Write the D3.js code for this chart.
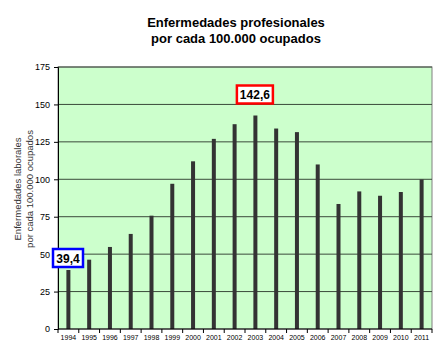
<!DOCTYPE html>
<html><head><meta charset="utf-8">
<script src="https://cdn.jsdelivr.net/npm/d3@7"></script>
<style>body{margin:0;background:#fff}svg{display:block}</style>
</head><body>
<script>
const years = ["1994","1995","1996","1997","1998","1999","2000","2001","2002","2003","2004","2005","2006","2007","2008","2009","2010","2011"];
const values = [39.4,46.3,54.8,63.5,75.7,97,112,127,136.8,142.6,133.9,131.5,109.9,83.5,91.9,89,91.5,99.9];
const yTicks = [0,25,50,75,100,125,150,175];
const titleLines = ["Enfermedades profesionales","por cada 100.000 ocupados"];
const yTitleLines = ["Enfermedades laborales","por cada 100.000 ocupados"];
const annotations = [{year:"1994", text:"39,4", color:"#0000ff"},{year:"2003", text:"142,6", color:"#ff0000"}];

const W=438,H=358, m={l:58,r:6,t:67,b:29};
const svg=d3.select("body").append("svg").attr("width",W).attr("height",H);
const x=d3.scaleBand().domain(years).range([m.l,W-m.r]);
const y=d3.scaleLinear().domain([0,175]).range([H-m.b,m.t]);

svg.append("rect").attr("x",m.l).attr("y",m.t).attr("width",W-m.r-m.l).attr("height",H-m.b-m.t)
  .attr("fill","#ccffcc").attr("stroke","#808080").attr("stroke-width",1);
svg.append("g").selectAll("line").data(yTicks.filter(d=>d>0)).join("line")
  .attr("x1",m.l).attr("x2",W-m.r).attr("y1",d=>y(d)).attr("y2",d=>y(d))
  .attr("stroke","#3a4a3a").attr("stroke-width",1);

svg.append("g").selectAll("rect").data(years).join("rect")
  .attr("x",(d)=>x(d)+x.bandwidth()/2-2).attr("width",4)
  .attr("y",(d,i)=>y(values[i])).attr("height",(d,i)=>y(0)-y(values[i]))
  .attr("fill","#333333");

const ya=d3.axisLeft(y).tickValues(yTicks).tickSize(4).tickPadding(4);
const gy=svg.append("g").attr("transform",`translate(${m.l},0)`).call(ya);
gy.selectAll("text").attr("font-family","Arial, Liberation Sans, sans-serif").attr("font-size",9).attr("fill","#000");
gy.selectAll("line,path").attr("stroke","#000");

const gx=svg.append("g").attr("transform",`translate(0,${y(0)})`);
gx.append("line").attr("x1",m.l).attr("x2",W-m.r).attr("stroke","#000");
gx.selectAll("line.t").data(years.concat(["end"])).join("line").attr("class","t")
  .attr("x1",(d,i)=>m.l+i*x.step()).attr("x2",(d,i)=>m.l+i*x.step()).attr("y1",0).attr("y2",4).attr("stroke","#000");
gx.selectAll("text").data(years).join("text")
  .attr("x",d=>x(d)+x.bandwidth()/2).attr("y",11).attr("text-anchor","middle")
  .attr("font-family","Arial, Liberation Sans, sans-serif").attr("font-size",7).attr("fill","#000").text(d=>d);

svg.append("text").attr("x",236).attr("y",27).attr("text-anchor","middle")
  .attr("font-family","Arial, Liberation Sans, sans-serif").attr("font-weight","bold").attr("font-size",13)
  .selectAll("tspan").data(titleLines).join("tspan").attr("x",236).attr("dy",(d,i)=>i?16:0).text(d=>d);

svg.append("text").attr("transform","translate(25,189) rotate(-90)").attr("text-anchor","middle")
  .attr("font-family","Arial, Liberation Sans, sans-serif").attr("font-size",9.5).attr("fill","#333")
  .selectAll("tspan").data(yTitleLines).join("tspan").attr("x",0).attr("y",(d,i)=>i?8:-4).text(d=>d);

annotations.forEach(a=>{
  const i=years.indexOf(a.year);
  const g=svg.append("g");
  const t=g.append("text").attr("font-family","Arial, Liberation Sans, sans-serif").attr("font-weight","bold").attr("font-size",12)
   .attr("text-anchor","middle").text(a.text);
  let cx, cy;
  if(i===0){cx=68; cy=258;} else {cx=x(a.year)+x.bandwidth()/2-0.5; cy=94.5;}
  const bw=a.text.length>4?36:30, bh=18;
  g.insert("rect","text").attr("x",cx-bw/2).attr("y",cy-bh/2).attr("width",bw).attr("height",bh)
   .attr("fill","#fff").attr("stroke",a.color).attr("stroke-width",2.5);
  t.attr("x",cx).attr("y",cy+4.5);
});
</script>
</body></html>
